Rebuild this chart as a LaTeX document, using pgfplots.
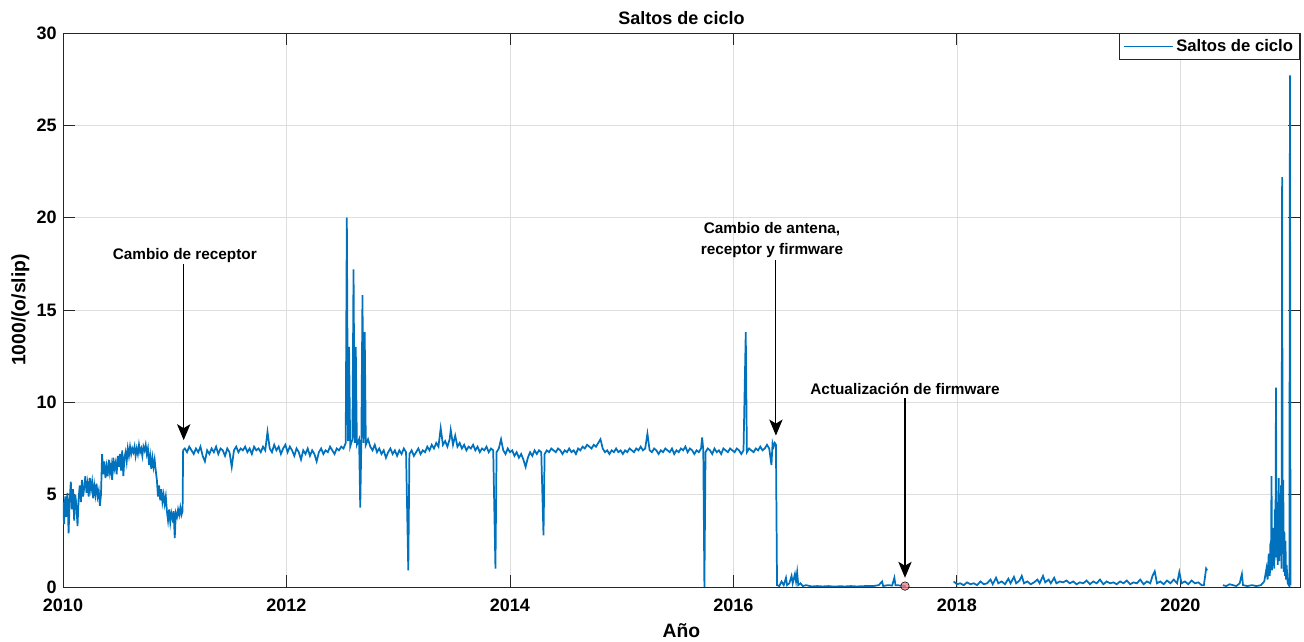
\documentclass[border=0pt]{standalone}
\usepackage{pgfplots}
\pgfplotsset{compat=1.18}
\usepackage{pgfplotstable}
\usepackage{fontspec}
\setmainfont{Liberation Sans}
\usetikzlibrary{arrows.meta}
\definecolor{mblue}{RGB}{0,114,189}
\definecolor{axgray}{RGB}{38,38,38}
\definecolor{dotred}{RGB}{240,120,130}

\pgfplotstableread{
x y
2010.00 4.6
2010.01 3.4
2010.02 4.9
2010.03 3.8
2010.04 5.1
2010.05 2.9
2010.06 4.7
2010.07 5.7
2010.08 4.2
2010.09 5.3
2010.10 3.6
2010.11 5.0
2010.12 4.4
2010.13 3.3
2010.14 4.8
2010.15 5.5
2010.16 4.6
2010.17 5.8
2010.18 4.9
2010.19 5.4
2010.20 6.0
2010.21 5.1
2010.22 5.6
2010.23 4.9
2010.24 5.9
2010.25 5.3
2010.26 5.7
2010.27 4.8
2010.28 5.5
2010.29 5.0
2010.30 5.6
2010.31 4.9
2010.32 5.2
2010.33 4.4
2010.34 5.0
2010.35 7.2
2010.36 6.1
2010.37 6.8
2010.38 5.9
2010.39 6.5
2010.40 6.0
2010.41 6.9
2010.42 6.2
2010.43 6.6
2010.44 5.8
2010.45 7.0
2010.46 6.4
2010.47 6.7
2010.48 6.1
2010.49 7.1
2010.50 6.5
2010.51 7.2
2010.52 6.3
2010.53 7.4
2010.54 6.0
2010.55 7.0
2010.56 7.3
2010.57 6.8
2010.58 7.5
2010.59 7.1
2010.60 7.6
2010.61 7.2
2010.62 7.5
2010.63 7.3
2010.64 7.6
2010.65 7.1
2010.66 7.5
2010.67 7.2
2010.68 7.7
2010.69 7.3
2010.70 7.5
2010.71 7.1
2010.72 7.6
2010.73 7.4
2010.74 7.7
2010.75 7.2
2010.76 7.5
2010.77 6.6
2010.78 7.1
2010.79 6.4
2010.80 7.0
2010.81 6.5
2010.82 6.9
2010.83 6.3
2010.84 5.8
2010.85 4.9
2010.86 5.5
2010.87 4.7
2010.88 5.3
2010.89 4.6
2010.90 5.0
2010.91 4.5
2010.92 4.9
2010.93 4.1
2010.94 3.6
2010.95 4.2
2010.96 3.5
2010.97 4.0
2010.98 3.7
2010.99 4.1
2011.00 2.65
2011.01 4.0
2011.02 3.8
2011.03 4.2
2011.04 3.9
2011.05 4.3
2011.06 3.9
2011.07 4.1
2011.075 7.4
2011.09 7.5
2011.11 7.3
2011.13 7.6
2011.15 7.4
2011.17 7.2
2011.19 7.5
2011.21 7.3
2011.23 7.6
2011.25 7.1
2011.27 6.8
2011.29 7.4
2011.31 7.2
2011.33 7.5
2011.35 7.3
2011.37 7.6
2011.39 7.2
2011.41 7.5
2011.43 7.4
2011.45 7.1
2011.47 7.5
2011.49 7.3
2011.51 6.5
2011.53 7.4
2011.55 7.6
2011.57 7.3
2011.59 7.5
2011.61 7.4
2011.63 7.6
2011.65 7.3
2011.67 7.5
2011.69 7.2
2011.71 7.6
2011.73 7.4
2011.75 7.5
2011.77 7.3
2011.79 7.6
2011.81 7.4
2011.83 8.4
2011.85 7.5
2011.87 7.3
2011.89 7.7
2011.91 7.4
2011.93 7.6
2011.95 7.2
2011.97 7.5
2011.99 7.7
2012.01 7.3
2012.03 7.6
2012.05 7.4
2012.07 7.1
2012.09 7.5
2012.11 7.3
2012.13 6.9
2012.15 7.4
2012.17 7.2
2012.19 7.5
2012.21 7.1
2012.23 7.4
2012.25 7.2
2012.27 6.8
2012.29 7.3
2012.31 7.5
2012.33 7.2
2012.35 7.4
2012.37 7.3
2012.39 7.6
2012.41 7.4
2012.43 7.2
2012.45 7.5
2012.47 7.4
2012.49 7.6
2012.51 7.5
2012.53 7.8
2012.54 20.0
2012.55 7.9
2012.56 13.0
2012.57 7.6
2012.59 8.0
2012.60 17.2
2012.61 7.8
2012.62 13.0
2012.63 7.7
2012.65 8.0
2012.66 4.3
2012.67 7.9
2012.68 15.8
2012.69 7.8
2012.70 13.8
2012.71 7.7
2012.73 8.0
2012.75 7.6
2012.77 7.4
2012.79 7.7
2012.81 7.3
2012.83 7.5
2012.85 7.2
2012.87 7.4
2012.89 7.0
2012.91 7.3
2012.93 7.5
2012.95 7.2
2012.97 7.4
2012.99 7.1
2013.01 7.4
2013.03 7.2
2013.05 7.5
2013.07 7.3
2013.09 0.9
2013.10 7.2
2013.12 7.4
2013.14 7.1
2013.16 7.3
2013.18 7.5
2013.20 7.2
2013.22 7.4
2013.24 7.3
2013.26 7.6
2013.28 7.4
2013.30 7.7
2013.32 7.5
2013.34 7.8
2013.36 7.6
2013.38 8.6
2013.40 7.7
2013.42 7.9
2013.44 7.6
2013.46 8.0
2013.47 8.5
2013.49 7.7
2013.51 8.2
2013.53 7.6
2013.55 7.8
2013.57 7.5
2013.59 7.7
2013.61 7.4
2013.63 7.6
2013.65 7.5
2013.67 7.7
2013.69 7.4
2013.71 7.6
2013.73 7.3
2013.75 7.5
2013.77 7.4
2013.79 7.6
2013.81 7.3
2013.83 7.5
2013.85 7.4
2013.87 1.0
2013.88 7.3
2013.90 7.5
2013.92 8.0
2013.94 7.4
2013.96 7.2
2013.98 7.5
2014.00 7.3
2014.02 7.4
2014.04 7.1
2014.06 7.3
2014.08 7.0
2014.10 7.2
2014.12 6.9
2014.14 6.5
2014.16 7.0
2014.18 7.3
2014.20 7.1
2014.22 7.4
2014.24 7.2
2014.26 7.4
2014.28 7.3
2014.30 2.8
2014.31 7.2
2014.33 7.4
2014.35 7.3
2014.37 7.5
2014.39 7.4
2014.41 7.3
2014.43 7.5
2014.45 7.4
2014.47 7.2
2014.49 7.4
2014.51 7.3
2014.53 7.5
2014.55 7.3
2014.57 7.4
2014.59 7.2
2014.61 7.5
2014.63 7.4
2014.65 7.6
2014.67 7.5
2014.69 7.7
2014.71 7.6
2014.73 7.5
2014.75 7.7
2014.77 7.6
2014.79 7.8
2014.81 8.0
2014.83 7.5
2014.85 7.3
2014.87 7.4
2014.89 7.2
2014.91 7.4
2014.93 7.3
2014.95 7.5
2014.97 7.3
2014.99 7.4
2015.01 7.2
2015.03 7.4
2015.05 7.3
2015.07 7.5
2015.09 7.4
2015.11 7.3
2015.13 7.5
2015.15 7.4
2015.17 7.6
2015.19 7.4
2015.21 7.5
2015.23 8.3
2015.25 7.4
2015.27 7.3
2015.29 7.5
2015.31 7.4
2015.33 7.2
2015.35 7.4
2015.37 7.3
2015.39 7.5
2015.41 7.4
2015.43 7.3
2015.45 7.5
2015.47 7.2
2015.49 7.4
2015.51 7.3
2015.53 7.5
2015.55 7.4
2015.57 7.6
2015.59 7.3
2015.61 7.5
2015.63 7.4
2015.65 7.2
2015.67 7.4
2015.69 7.3
2015.71 7.5
2015.72 8.1
2015.73 7.4
2015.74 0.0
2015.75 7.3
2015.77 7.5
2015.79 7.4
2015.81 7.2
2015.83 7.5
2015.85 7.3
2015.87 7.4
2015.89 7.2
2015.91 7.5
2015.93 7.4
2015.95 7.3
2015.97 7.5
2015.99 7.4
2016.01 7.3
2016.03 7.5
2016.05 7.4
2016.07 7.2
2016.09 7.4
2016.11 13.8
2016.12 7.3
2016.14 7.5
2016.16 7.4
2016.18 7.3
2016.20 7.5
2016.22 7.4
2016.24 7.6
2016.26 7.4
2016.28 7.5
2016.30 7.7
2016.32 7.5
2016.34 6.6
2016.35 7.8
2016.36 7.6
2016.37 7.8
2016.38 7.7
2016.39 0.1
2016.41 0.05
2016.43 0.3
2016.45 0.1
2016.47 0.5
2016.48 0.1
2016.50 0.2
2016.52 0.6
2016.53 0.2
2016.55 0.7
2016.56 0.3
2016.57 0.8
2016.58 0.1
2016.60 0.2
2016.62 0.05
2016.65 0.1
2016.70 0.03
2016.75 0.05
2016.80 0.03
2016.85 0.05
2016.90 0.02
2016.95 0.04
2017.00 0.03
2017.05 0.05
2017.10 0.03
2017.15 0.04
2017.20 0.06
2017.25 0.05
2017.30 0.1
2017.33 0.3
2017.34 0.05
2017.38 0.1
2017.42 0.08
2017.44 0.5
2017.45 0.1
2017.50 0.08
2017.54 0.05
2017.70 nan
2017.97 0.3
2018.00 0.15
2018.03 0.2
2018.06 0.1
2018.09 0.25
2018.12 0.15
2018.15 0.2
2018.18 0.1
2018.21 0.3
2018.24 0.15
2018.27 0.2
2018.30 0.4
2018.32 0.15
2018.35 0.5
2018.37 0.2
2018.40 0.3
2018.43 0.15
2018.46 0.45
2018.48 0.2
2018.51 0.55
2018.53 0.2
2018.56 0.35
2018.58 0.6
2018.60 0.2
2018.63 0.3
2018.66 0.15
2018.69 0.25
2018.72 0.4
2018.74 0.2
2018.77 0.6
2018.79 0.25
2018.82 0.4
2018.84 0.2
2018.87 0.5
2018.89 0.2
2018.92 0.3
2018.95 0.25
2018.98 0.35
2019.01 0.2
2019.04 0.3
2019.07 0.15
2019.10 0.25
2019.13 0.2
2019.16 0.35
2019.19 0.15
2019.22 0.3
2019.25 0.2
2019.28 0.4
2019.31 0.15
2019.34 0.3
2019.37 0.2
2019.40 0.25
2019.43 0.15
2019.46 0.3
2019.49 0.2
2019.52 0.35
2019.55 0.15
2019.58 0.25
2019.61 0.2
2019.64 0.4
2019.67 0.15
2019.70 0.3
2019.73 0.2
2019.75 0.6
2019.77 0.85
2019.79 0.2
2019.82 0.3
2019.85 0.15
2019.88 0.35
2019.91 0.2
2019.94 0.4
2019.97 0.2
2019.99 0.8
2020.01 0.2
2020.04 0.3
2020.07 0.15
2020.10 0.35
2020.13 0.2
2020.16 0.25
2020.19 0.1
2020.21 0.1
2020.23 1.0
2020.24 0.9
2020.30 nan
2020.38 0.1
2020.41 0.05
2020.44 0.15
2020.47 0.1
2020.50 0.05
2020.53 0.2
2020.55 0.7
2020.56 0.1
2020.60 0.05
2020.64 0.1
2020.68 0.05
2020.72 0.1
2020.75 0.3
2020.77 1.0
2020.78 0.4
2020.79 1.8
2020.80 0.6
2020.805 2.4
2020.81 1.1
2020.815 6.0
2020.82 0.9
2020.825 3.2
2020.83 1.5
2020.835 2.8
2020.84 1.0
2020.845 4.2
2020.85 1.6
2020.855 10.8
2020.86 2.0
2020.865 4.6
2020.87 1.2
2020.875 3.5
2020.88 5.9
2020.885 1.4
2020.89 4.8
2020.895 2.2
2020.90 5.5
2020.905 1.0
2020.91 22.2
2020.915 1.8
2020.92 5.8
2020.925 0.8
2020.93 3.0
2020.935 0.6
2020.94 2.5
2020.945 0.4
2020.95 1.2
2020.96 0.2
2020.97 0.1
2020.975 0.05
2020.98 27.7
2020.985 0.1
}\slips

\begin{document}
\begin{tikzpicture}
\useasboundingbox (-47.25pt,-41.25pt) rectangle (930.75pt,440.25pt);
\begin{axis}[
  scale only axis,
  width=927.75pt, height=415.5pt,
  xmin=2010, xmax=2021.07, ymin=0, ymax=30,
  xtick={2010,2012,2014,2016,2018,2020},
  ytick={0,5,10,15,20,25,30},
  grid=major,
  major grid style={draw=black!13, line width=0.5pt},
  tick align=inside,
  major tick length=9.3pt,
  axis line style={draw=axgray, line width=0.7pt},
  every tick/.style={axgray, line width=0.7pt},
  /pgf/number format/assume math mode=true,
  ticklabel style={font=\fontsize{13.5}{16}\selectfont\bfseries, text=black, inner sep=1pt},
  xticklabel style={/pgf/number format/1000 sep={}, yshift=-7.5pt},
  yticklabel style={xshift=-3.5pt},
  title={Saltos de ciclo},
  title style={font=\fontsize{13.5}{16}\selectfont\bfseries, yshift=-3pt},
  xlabel={Año},
  ylabel={1000/(o/slip)},
  label style={font=\fontsize{14.5}{17}\selectfont\bfseries},
  xlabel style={yshift=-5pt},
  ylabel style={yshift=1pt},
  unbounded coords=jump,
  legend style={at={(1,1)}, anchor=north east, draw=axgray, line width=0.5pt,
    font=\fontsize{12.5}{15}\selectfont\bfseries, inner xsep=3pt, inner ysep=2.5pt,
    cells={anchor=west}},
  legend image code/.code={\draw[#1, line width=1pt] (0pt,0pt) -- (37pt,0pt);},
]
\addplot[mblue, line width=1.3pt] table[x=x, y=y] {\slips};
\addlegendentry{Saltos de ciclo}
\addplot[only marks, mark=*, mark size=3.2pt, forget plot,
  mark options={draw=none, fill=dotred, fill opacity=0.75}] coordinates {(2017.535,0.05)};

\draw[black, line width=0.8pt, -{Stealth[length=12pt,width=10pt,inset=3pt]}] (axis cs:2011.08,17.5) -- (axis cs:2011.08,7.95);
\node[font=\fontsize{11.5}{14}\selectfont\bfseries, anchor=base] at (axis cs:2011.09,17.75) {Cambio de receptor};

\draw[black, line width=0.8pt, -{Stealth[length=12pt,width=10pt,inset=3pt]}] (axis cs:2016.38,17.7) -- (axis cs:2016.38,8.2);
\node[font=\fontsize{11.5}{15.5}\selectfont\bfseries, align=center] at (axis cs:2016.345,18.8) {Cambio de antena,\\receptor y firmware};

\draw[black, line width=0.8pt, -{Stealth[length=12pt,width=10pt,inset=3pt]}] (axis cs:2017.535,10.25) -- (axis cs:2017.535,0.5);
\node[font=\fontsize{11.5}{14}\selectfont\bfseries, anchor=base] at (axis cs:2017.535,10.45) {Actualización de firmware};
\end{axis}
\end{tikzpicture}
\end{document}
